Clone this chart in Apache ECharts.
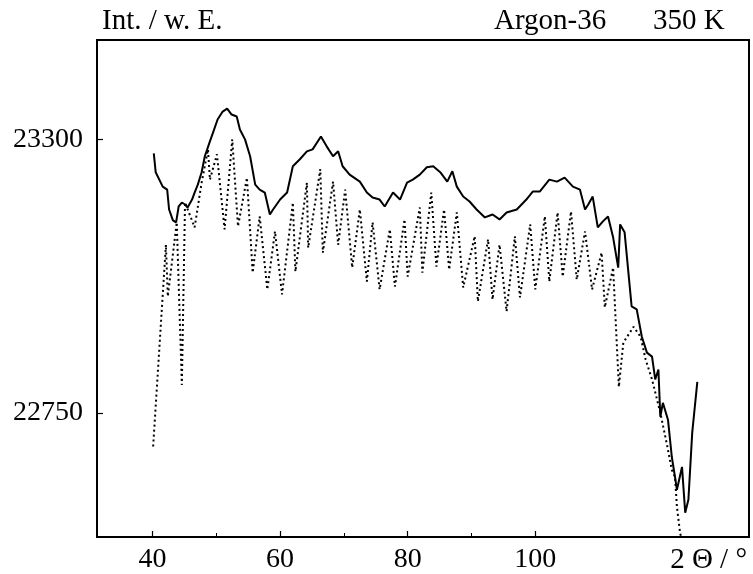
<!DOCTYPE html>
<html>
<head>
<meta charset="utf-8">
<script src="https://cdn.jsdelivr.net/npm/echarts@6/dist/echarts.min.js"></script>
<style>
html,body{margin:0;padding:0;background:#fff;}
#c{width:753px;height:574px;}
</style>
</head>
<body>
<div id="c"></div>
<script>
// ---- data ----
const xTickValues = [40, 60, 80, 100];
const xMinorTickValues = [50, 70, 90];
const yTickValues = [22750, 23300];

const solidX = [40.2,40.5,41.6,42.3,42.6,43.2,43.7,44.1,44.6,45.1,45.5,46.2,46.6,47.1,47.7,48.2,49.0,49.5,50.2,51.0,51.7,52.4,53.2,53.7,54.5,55.3,56.1,56.8,57.6,58.4,58.9,60.0,61.1,62.0,63.1,64.2,65.1,66.4,67.3,68.3,69.1,69.8,70.9,72.5,73.6,74.5,75.6,76.4,77.7,78.8,79.9,80.8,81.9,83.0,84.0,85.1,86.2,87.0,87.7,88.7,89.7,90.8,92.1,93.3,94.4,95.5,97.1,98.6,99.6,100.7,102.2,103.4,104.6,105.9,107.0,107.8,108.3,109.0,109.8,110.6,111.4,112.2,113.0,113.3,114.0,115.1,115.9,116.7,117.5,118.3,118.8,119.3,119.6,120.0,120.8,121.4,121.9,122.2,123.0,123.5,124.0,124.6,125.4];
const solidY = [23272,23234,23205,23199,23159,23137,23133,23165,23173,23169,23163,23179,23193,23209,23234,23266,23296,23314,23340,23356,23362,23350,23346,23320,23300,23266,23209,23199,23193,23149,23159,23179,23193,23246,23260,23276,23280,23306,23286,23266,23276,23246,23229,23215,23193,23183,23179,23165,23193,23179,23213,23219,23229,23244,23246,23234,23215,23236,23205,23185,23175,23159,23143,23149,23139,23153,23159,23179,23195,23195,23219,23215,23223,23205,23199,23159,23169,23185,23123,23135,23145,23103,23042,23129,23113,22964,22958,22903,22871,22863,22817,22837,22742,22770,22736,22661,22621,22595,22641,22549,22575,22710,22812];

const dottedX = [40.1,42.1,42.4,43.8,44.6,45.1,46.6,47.7,48.7,49.0,50.1,51.3,52.5,53.4,54.8,55.7,56.8,58.0,59.2,60.3,62.0,62.4,64.2,64.4,66.3,66.7,68.3,69.1,70.2,71.3,72.5,73.6,74.5,75.6,77.2,78.0,79.5,80.0,81.9,82.3,83.7,84.5,85.7,86.5,87.7,88.7,90.5,91.0,92.6,93.3,94.4,95.5,96.8,97.6,99.2,100.0,101.5,102.2,103.5,104.3,105.6,106.5,107.8,108.9,110.4,110.9,112.2,113.1,113.8,115.4,116.5,117.3,118.3,119.6,120.7,121.4,121.9,122.2,122.7,123.2];
const dottedY = [22682,23088,22984,23133,22806,23173,23123,23213,23280,23219,23270,23119,23300,23125,23223,23032,23145,22998,23115,22988,23173,23034,23213,23082,23240,23072,23215,23088,23199,23042,23159,23014,23133,22998,23119,23004,23139,23024,23163,23032,23193,23044,23159,23038,23153,23002,23105,22974,23099,22978,23088,22954,23105,22982,23129,22998,23145,23014,23153,23024,23155,23018,23115,22998,23072,22962,23042,22802,22891,22923,22903,22857,22817,22750,22682,22635,22621,22561,22508,22484];

const titleLeft = 'Int. / w. E.';
const titleMid = 'Argon-36';
const titleRight = '350 K';
const xName = '2 Θ / °';

// ---- chart ----
const zip = (xs, ys) => xs.map((x, i) => [x, ys[i]]);
const FONT = 'Liberation Serif, Times New Roman, serif';
const chart = echarts.init(document.getElementById('c'), null, {renderer: 'canvas'});
const xMin = 31.3, xMax = 133.5;
chart.setOption({
  animation: false,
  backgroundColor: '#fff',
  grid: {left: 97, right: 4, top: 40, bottom: 35, show: true, borderColor: '#000', borderWidth: 2, backgroundColor: 'transparent'},
  xAxis: [
    {type: 'value', min: xMin, max: xMax,
     axisLine: {show: false},
     axisTick: {show: true, inside: true, length: 6, customValues: xTickValues, lineStyle: {color: '#000', width: 1.2}},
     axisLabel: {customValues: xTickValues, color: '#000', fontFamily: FONT, fontSize: 28, margin: 9, formatter: v => String(v)},
     splitLine: {show: false}},
    {type: 'value', min: xMin, max: xMax, position: 'bottom',
     axisLine: {show: false},
     axisTick: {show: true, inside: true, length: 4, customValues: xMinorTickValues, lineStyle: {color: '#000', width: 1}},
     axisLabel: {show: true, customValues: xMinorTickValues, formatter: () => ''},
     splitLine: {show: false}}
  ],
  yAxis: {type: 'value', min: 22500, max: 23500,
    axisLine: {show: false},
    axisTick: {show: true, inside: true, length: 6, customValues: yTickValues, lineStyle: {color: '#000', width: 1.2}},
    axisLabel: {customValues: yTickValues, color: '#000', fontFamily: FONT, fontSize: 28, margin: 14, formatter: v => String(v)},
    splitLine: {show: false}},
  series: [
    {type: 'line', name: 'dotted', data: zip(dottedX, dottedY), symbol: 'none', clip: true, xAxisIndex: 0,
     lineStyle: {color: '#000', width: 2, type: [2, 3], cap: 'butt'}},
    {type: 'line', name: 'solid', data: zip(solidX, solidY), symbol: 'none', clip: true, xAxisIndex: 0,
     lineStyle: {color: '#000', width: 2}}
  ],
  graphic: [
    {type: 'text', left: 102, top: 7, style: {text: titleLeft, font: '29px ' + FONT, fill: '#000'}},
    {type: 'text', left: 494, top: 7, style: {text: titleMid, font: '29px ' + FONT, fill: '#000'}},
    {type: 'text', left: 653, top: 7, style: {text: titleRight, font: '29px ' + FONT, fill: '#000'}},
    {type: 'text', right: 6, top: 546, style: {text: xName, font: '29px ' + FONT, fill: '#000'}}
  ]
});
</script>
</body>
</html>
